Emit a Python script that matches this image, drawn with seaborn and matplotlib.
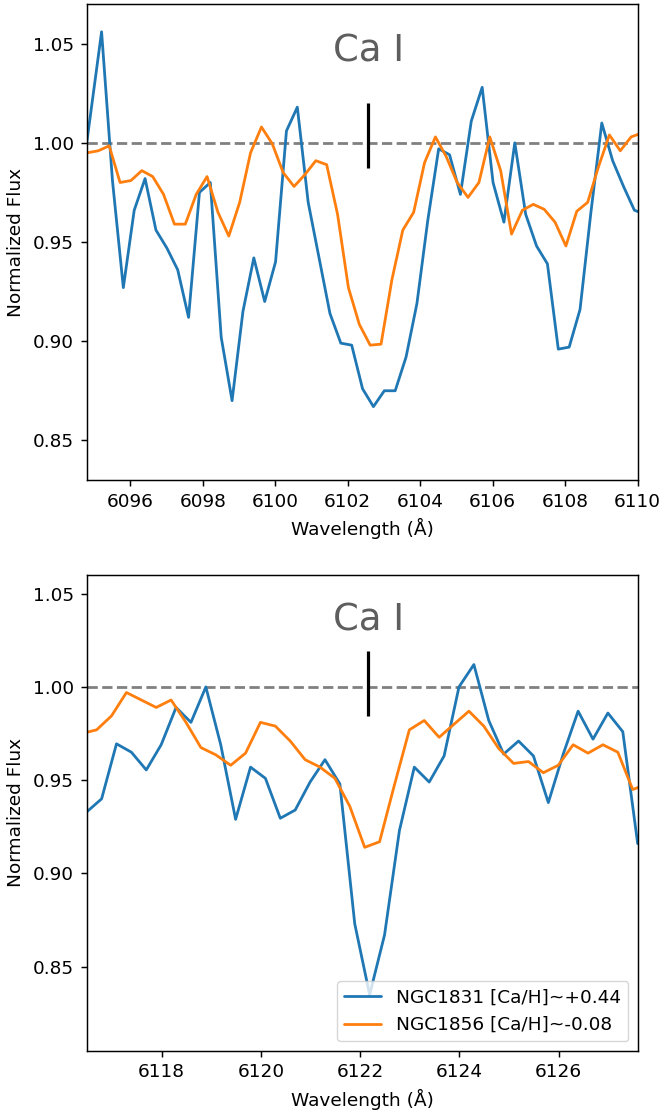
import numpy as np
import pandas as pd
import matplotlib
matplotlib.use("Agg")
import matplotlib.pyplot as plt
import seaborn as sns

# ---------------- data ----------------
# Top panel: Ca I 6102.7
top_blue_wave = [6094.80, 6095.21, 6095.51, 6095.81, 6096.11, 6096.41, 6096.71, 6097.01,
                 6097.31, 6097.61, 6097.91, 6098.21, 6098.51, 6098.81, 6099.11, 6099.41,
                 6099.71, 6100.01, 6100.31, 6100.61, 6100.91, 6101.21, 6101.51, 6101.81,
                 6102.11, 6102.41, 6102.71, 6103.01, 6103.31, 6103.61, 6103.91, 6104.21,
                 6104.51, 6104.81, 6105.11, 6105.41, 6105.71, 6106.01, 6106.31, 6106.61,
                 6106.91, 6107.21, 6107.51, 6107.81, 6108.11, 6108.41, 6108.71, 6109.01,
                 6109.31, 6109.61, 6109.91, 6110.21]
top_blue_flux = [1.000, 1.056, 0.981, 0.927, 0.966, 0.982, 0.956, 0.947,
                 0.936, 0.912, 0.975, 0.980, 0.902, 0.870, 0.915, 0.942,
                 0.920, 0.940, 1.006, 1.018, 0.970, 0.942, 0.914, 0.899,
                 0.898, 0.876, 0.867, 0.875, 0.875, 0.892, 0.919, 0.961,
                 0.997, 0.994, 0.974, 1.011, 1.028, 0.980, 0.960, 1.000,
                 0.964, 0.948, 0.939, 0.896, 0.897, 0.916, 0.965, 1.010,
                 0.991, 0.978, 0.966, 0.964]

top_orange_wave = [6094.82, 6095.12, 6095.42, 6095.72, 6096.02, 6096.32, 6096.62, 6096.92,
                   6097.22, 6097.52, 6097.82, 6098.12, 6098.42, 6098.72, 6099.02, 6099.32,
                   6099.62, 6099.92, 6100.22, 6100.52, 6100.82, 6101.12, 6101.42, 6101.72,
                   6102.02, 6102.32, 6102.62, 6102.92, 6103.22, 6103.52, 6103.82, 6104.12,
                   6104.42, 6104.72, 6105.02, 6105.32, 6105.62, 6105.92, 6106.22, 6106.52,
                   6106.82, 6107.12, 6107.42, 6107.72, 6108.02, 6108.32, 6108.62, 6108.92,
                   6109.22, 6109.52, 6109.82, 6110.12]
top_orange_flux = [0.995, 0.996, 0.9985, 0.980, 0.981, 0.986, 0.983, 0.974,
                   0.959, 0.959, 0.974, 0.983, 0.965, 0.953, 0.970, 0.995,
                   1.008, 0.9995, 0.985, 0.978, 0.984, 0.991, 0.989, 0.964,
                   0.927, 0.9085, 0.898, 0.8985, 0.931, 0.956, 0.965, 0.990,
                   1.003, 0.993, 0.980, 0.9725, 0.980, 1.003, 0.986, 0.954,
                   0.966, 0.969, 0.9665, 0.960, 0.948, 0.9655, 0.970, 0.988,
                   1.004, 0.996, 1.003, 1.005]

# Bottom panel: Ca I 6122.2
bot_blue_wave = [6116.49, 6116.79, 6117.09, 6117.39, 6117.69, 6117.99, 6118.29, 6118.59,
                 6118.89, 6119.19, 6119.49, 6119.79, 6120.09, 6120.39, 6120.69, 6120.99,
                 6121.29, 6121.59, 6121.89, 6122.19, 6122.49, 6122.79, 6123.09, 6123.39,
                 6123.69, 6123.99, 6124.29, 6124.59, 6124.89, 6125.19, 6125.49, 6125.79,
                 6126.09, 6126.39, 6126.69, 6126.99, 6127.29, 6127.59]
bot_blue_flux = [0.933, 0.940, 0.9695, 0.965, 0.9555, 0.969, 0.989, 0.981,
                 1.000, 0.969, 0.929, 0.957, 0.951, 0.9296, 0.934, 0.949,
                 0.961, 0.948, 0.873, 0.835, 0.867, 0.923, 0.957, 0.949,
                 0.963, 1.000, 1.012, 0.982, 0.964, 0.971, 0.963, 0.938,
                 0.964, 0.987, 0.972, 0.986, 0.976, 0.916]

bot_orange_wave = [6116.39, 6116.69, 6116.99, 6117.29, 6117.59, 6117.89, 6118.19, 6118.49,
                   6118.79, 6119.09, 6119.39, 6119.69, 6119.99, 6120.29, 6120.59, 6120.89,
                   6121.19, 6121.49, 6121.79, 6122.09, 6122.39, 6122.69, 6122.99, 6123.29,
                   6123.59, 6123.89, 6124.19, 6124.49, 6124.79, 6125.09, 6125.39, 6125.69,
                   6125.99, 6126.29, 6126.59, 6126.89, 6127.19, 6127.49, 6127.79]
bot_orange_flux = [0.975, 0.977, 0.9845, 0.997, 0.993, 0.989, 0.993, 0.981,
                   0.9675, 0.9636, 0.958, 0.9645, 0.981, 0.979, 0.971, 0.961,
                   0.957, 0.951, 0.936, 0.914, 0.917, 0.9475, 0.977, 0.982,
                   0.973, 0.980, 0.987, 0.979, 0.967, 0.959, 0.960, 0.954,
                   0.958, 0.969, 0.9645, 0.969, 0.965, 0.945, 0.948]

series_labels = ["NGC1831 [Ca/H]~+0.44", "NGC1856 [Ca/H]~-0.08"]
line_label = "Ca I"
line_centers = [6102.57, 6122.16]
xlims = [(6094.8, 6110.0), (6116.49, 6127.59)]
ylims = [(0.83, 1.07), (0.805, 1.06)]
label_y = [1.041, 1.0305]
marker_range = [(0.9875, 1.0200), (0.9845, 1.0193)]
xticks = [[6096, 6098, 6100, 6102, 6104, 6106, 6108, 6110],
          [6118, 6120, 6122, 6124, 6126]]
yticks = [0.85, 0.90, 0.95, 1.00, 1.05]

# ---------------- style ----------------
sns.set_style("ticks")
FS = 13.3
plt.rcParams.update({
    "font.family": ["DejaVu Sans"],
    "font.size": FS,
    "axes.labelsize": FS,
    "xtick.labelsize": FS,
    "ytick.labelsize": FS,
    "legend.fontsize": FS,
    "axes.linewidth": 1.05,
    "xtick.major.width": 1.05,
    "ytick.major.width": 1.05,
    "xtick.major.size": 4.6,
    "ytick.major.size": 4.6,
    "xtick.major.pad": 4.6,
    "ytick.major.pad": 4.6,
    "axes.labelpad": 5.3,
    "axes.edgecolor": "black",
    "xtick.color": "black",
    "ytick.color": "black",
    "text.color": "black",
    "axes.labelcolor": "black",
})

BLUE = "#1f77b4"
ORANGE = "#ff7f0e"
LW = 2.0

fig = plt.figure(figsize=(6.63, 11.15), dpi=100)
ax1 = fig.add_axes([0.1308, 0.5695, 0.8310, 0.4269])
ax2 = fig.add_axes([0.1308, 0.0577, 0.8310, 0.4266])

panels = [
    (ax1, top_blue_wave, top_blue_flux, top_orange_wave, top_orange_flux),
    (ax2, bot_blue_wave, bot_blue_flux, bot_orange_wave, bot_orange_flux),
]

for i, (ax, bw, bf, ow, of) in enumerate(panels):
    ax.axhline(1.0, ls="--", color="gray", lw=LW, zorder=1)
    df_b = pd.DataFrame({"wave": bw, "flux": bf})
    df_o = pd.DataFrame({"wave": ow, "flux": of})
    sns.lineplot(data=df_b, x="wave", y="flux", ax=ax, color=BLUE, lw=LW,
                 label=series_labels[0], sort=False, zorder=2)
    sns.lineplot(data=df_o, x="wave", y="flux", ax=ax, color=ORANGE, lw=LW,
                 label=series_labels[1], sort=False, zorder=2)
    ax.vlines(line_centers[i], marker_range[i][0], marker_range[i][1],
              color="black", lw=2.3, zorder=3)
    ax.text(line_centers[i], label_y[i], line_label, ha="center", va="baseline",
            fontsize=26.6, color="#5e5e5e")
    ax.set_xlim(*xlims[i])
    ax.set_ylim(*ylims[i])
    ax.set_xticks(xticks[i])
    ax.set_yticks(yticks)
    ax.set_yticklabels([f"{v:.2f}" for v in yticks])
    ax.set_xlabel("Wavelength (Å)")
    ax.set_ylabel("Normalized Flux")
    for s in ax.spines.values():
        s.set_visible(True)
        s.set_linewidth(1.05)
    ax.tick_params(top=False, right=False, direction="out")
    leg = ax.get_legend()
    if leg is not None:
        leg.remove()

ax2.legend(loc="lower right", framealpha=0.8, fontsize=FS)

fig.savefig("out.png", dpi=100)
